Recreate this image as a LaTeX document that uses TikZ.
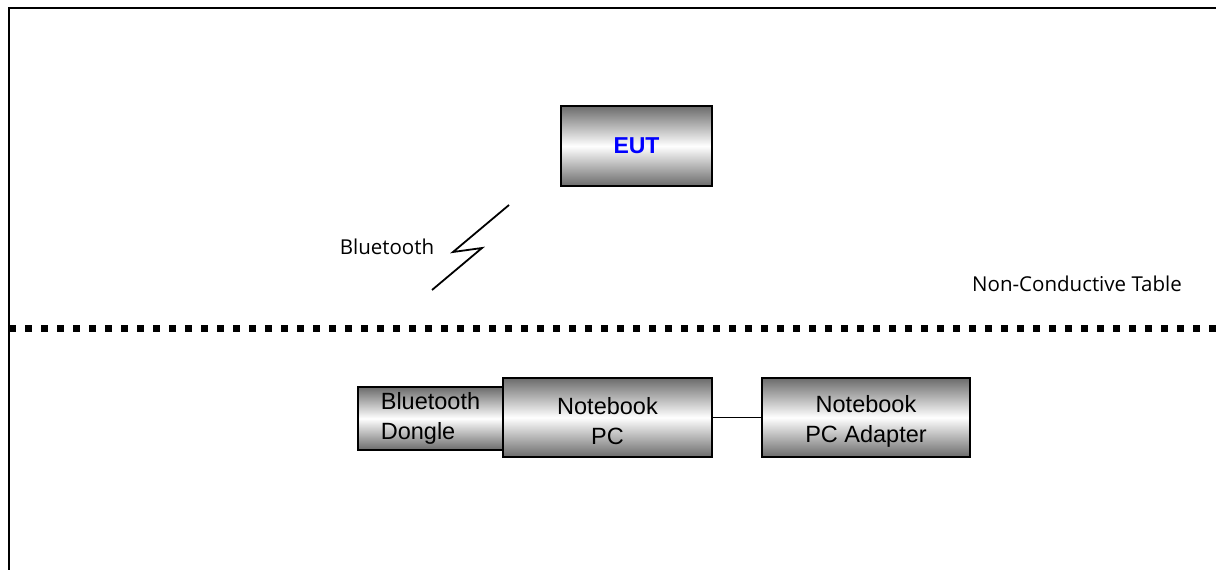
\documentclass[tikz,border=0pt]{standalone}
\usepackage{fontspec}
\setmainfont{Liberation Sans}
\newfontfamily\labelfont{Open Sans}
\begin{document}
\begin{tikzpicture}[x=1pt,y=-1pt,
  gbox/.style={draw=black,line width=2pt,inner sep=0pt,
    top color=black!58,bottom color=black!58,middle color=white,shading=axis,
    font=\fontsize{23.5}{30}\selectfont},
  boxtext/.style={align=center,inner sep=0pt,yshift=-3.5pt,font=\fontsize{23.5}{30}\selectfont},
  lbl/.style={font=\labelfont\fontsize{20.5}{24}\selectfont,inner sep=0pt}]
\useasboundingbox (0,0) rectangle (1216,570);
\draw[line width=2.2pt] (1220,8) -- (9,8) -- (9,575);
\draw[line width=7pt,dash pattern=on 7pt off 9pt] (9,328) -- (1220,328);
\node[gbox,minimum width=151pt,minimum height=80pt,text=blue,
  font=\fontsize{23}{26}\selectfont\bfseries] (eut) at (636.5,146) {EUT};
\coordinate (z1) at (509,205);
\coordinate (z2) at (453,252);
\coordinate (z3) at (482,248);
\coordinate (z4) at (432,290);
\draw[line width=1.8pt] (z1) -- (z2) -- (z3) -- (z4);
\node[lbl] (bt) at (387,247) {Bluetooth};
\node[lbl] (nct) at (1077,284) {Non-Conductive Table};
\node[gbox,minimum width=145pt,minimum height=63pt,align=left] (dongle) at (430.5,418.5) {Bluetooth\\Dongle};
\node[gbox,minimum width=209pt,minimum height=79pt,
  label={[boxtext]center:Notebook\\PC}] (pc) at (607.5,417.5) {};
\node[gbox,minimum width=208pt,minimum height=79pt,
  label={[boxtext]center:Notebook\\PC Adapter}] (adapter) at (866,417.5) {};
\draw[line width=1.8pt] (pc.east) -- (adapter.west);
\end{tikzpicture}
\end{document}
